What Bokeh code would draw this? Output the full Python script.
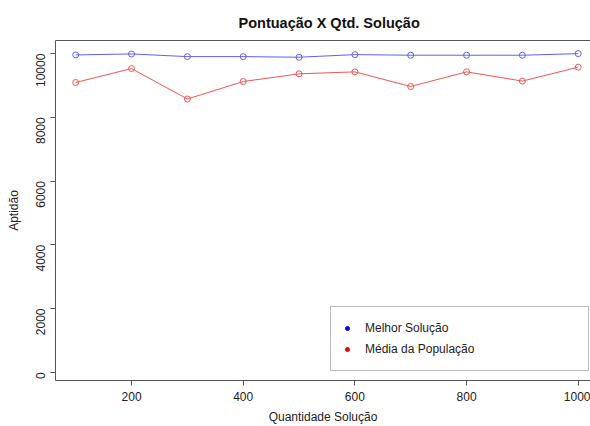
from bokeh.plotting import figure
from bokeh.models import Range1d, FixedTicker, Legend, LegendItem, LinearAxis
from bokeh.embed import file_html
from bokeh.resources import INLINE
import math

qtd = [100, 200, 300, 400, 500, 600, 700, 800, 900, 1000]
melhor = [9959, 9990, 9906, 9906, 9887, 9969, 9950, 9950, 9950, 10000]
media = [9094, 9531, 8575, 9125, 9366, 9428, 8969, 9428, 9138, 9575]
x_ticks = [200, 400, 600, 800, 1000]
y_ticks = [0, 2000, 4000, 6000, 8000, 10000]

FONT = "Liberation Sans"
AXC = "#555555"

p = figure(width=590, height=426, output_backend="svg", toolbar_location=None,
           x_range=Range1d(63.8, 1022), y_range=Range1d(-260, 10412),
           min_border_left=55, min_border_right=0, min_border_top=40, min_border_bottom=45)
p.xgrid.visible = False
p.ygrid.visible = False
p.outline_line_color = None
p.background_fill_color = "white"

p.title.text = "Pontuação X Qtd. Solução"
p.title.align = "left"
p.title.offset = 183
p.title.text_font = FONT
p.title.text_font_size = "14.5px"
p.title.text_font_style = "bold"
p.title.text_color = "#111111"
p.title.standoff = 20

for ax in [p.xaxis[0], p.yaxis[0]]:
    ax.axis_line_color = AXC
    ax.major_tick_line_color = AXC
    ax.minor_tick_line_color = None
    ax.major_tick_in = 0
    ax.major_tick_out = 5
    ax.major_label_text_font = FONT
    ax.major_label_text_font_size = "12px"
    ax.major_label_text_color = "#222222"
    ax.axis_label_text_font = FONT
    ax.axis_label_text_font_size = "12px"
    ax.axis_label_text_font_style = "normal"
    ax.axis_label_text_color = "#222222"

p.xaxis.ticker = FixedTicker(ticks=x_ticks)
p.yaxis.ticker = FixedTicker(ticks=y_ticks)
p.xaxis.axis_label = "Quantidade Solução"
p.yaxis.axis_label = "Aptidão"
p.yaxis.major_label_orientation = math.pi / 2
p.xaxis.major_label_standoff = 6
p.xaxis.axis_label_standoff = 6
p.yaxis.major_label_standoff = 10
p.yaxis.axis_label_standoff = 8

top = LinearAxis(ticker=FixedTicker(ticks=[]), axis_line_color=AXC,
                 major_label_text_font_size="0px", major_tick_line_color=None,
                 minor_tick_line_color=None)
p.add_layout(top, "above")

blue = "#6060ee"
red = "#ee5555"
p.line(qtd, melhor, line_color=blue, line_width=1)
p.scatter(qtd, melhor, marker="circle", size=6, fill_color=None, line_color=blue, line_width=1)
p.line(qtd, media, line_color=red, line_width=1)
p.scatter(qtd, media, marker="circle", size=6, fill_color=None, line_color=red, line_width=1)

# legend-only renderers, placed outside the visible range
lb = p.scatter([-5000], [-50000], marker="circle", size=4, fill_color="#0000ee", line_color="#0000ee")
lr = p.scatter([-5000], [-50000], marker="circle", size=4, fill_color="#ee0000", line_color="#ee0000")

legend = Legend(items=[LegendItem(label="Melhor Solução", renderers=[lb]),
                       LegendItem(label="Média da População", renderers=[lr])],
                location=(275, 9), padding=11, glyph_width=10, glyph_height=20,
                label_height=20, label_standoff=13, label_width=212, spacing=1,
                border_line_color="#777777", border_line_width=1,
                label_text_font=FONT, label_text_font_size="12px",
                label_text_color="#222222", background_fill_alpha=1.0)
p.add_layout(legend, "center")

open("out.html", "w").write(file_html(p, INLINE))
